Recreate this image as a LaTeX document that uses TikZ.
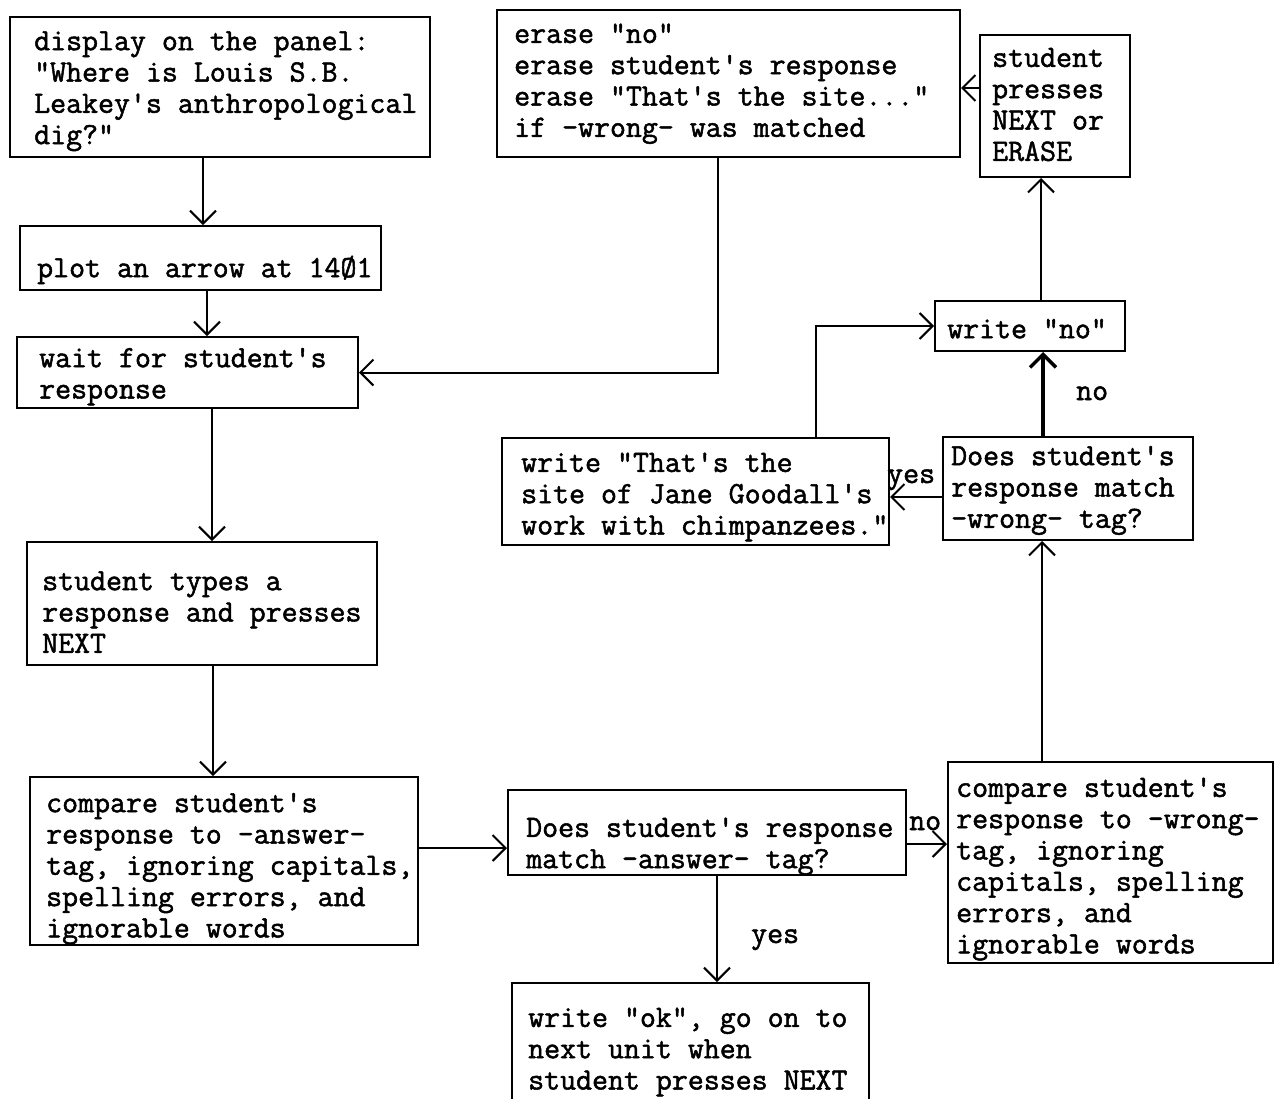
\documentclass[tikz,border=0pt]{standalone}
\usepackage{fontspec}
\setmonofont{Latin Modern Mono}[FakeBold=1.6]
\usetikzlibrary{arrows.meta,calc}
\tikzset{
  boxn/.style={draw, line width=2pt, rectangle, inner sep=0pt},
  txt/.style={anchor=north west, inner sep=0pt, align=left,
    font=\ttfamily\fontsize{31}{31.3}\selectfont},
  lbl/.style={anchor=base west, inner sep=0pt,
    font=\ttfamily\fontsize{31}{31.3}\selectfont},
  arr/.style={line width=2pt, -{Straight Barb[length=13pt,width=26pt]}},
  thickarr/.style={line width=3.5pt, -{Straight Barb[length=13pt,width=26pt]}}
}
\begin{document}
\begin{tikzpicture}[x=1pt,y=-1pt]
\useasboundingbox (0,0) rectangle (1274,1098);
\clip (0,0) rectangle (1274,1098);
\fill[white] (0,0) rectangle (1274,1098);

% boxes
\node[boxn,minimum width=420pt,minimum height=140pt] (disp) at (220,87) {};
\node[boxn,minimum width=361pt,minimum height=64pt] (plot) at (200.5,258) {};
\node[boxn,minimum width=341pt,minimum height=71pt] (wait) at (187.5,372.5) {};
\node[boxn,minimum width=350pt,minimum height=123pt] (types) at (202,603.5) {};
\node[boxn,minimum width=388pt,minimum height=168pt] (cmpa) at (224,861) {};
\node[boxn,minimum width=398pt,minimum height=85pt] (doesa) at (707,832.5) {};
\node[boxn,minimum width=357pt,minimum height=134pt] (ok) at (690.5,1050) {};
\node[boxn,minimum width=325pt,minimum height=201pt] (cmpw) at (1110.5,862.5) {};
\node[boxn,minimum width=250pt,minimum height=103pt] (doesw) at (1068,488.5) {};
\node[boxn,minimum width=387pt,minimum height=107pt] (site) at (695.5,491.5) {};
\node[boxn,minimum width=190pt,minimum height=50pt] (no) at (1030,326) {};
\node[boxn,minimum width=150pt,minimum height=142pt] (press) at (1055,106) {};
\node[boxn,minimum width=463pt,minimum height=147pt] (erase) at (728.5,83.5) {};

% texts
\node[txt] (dispT) at (34,28.1) {\strut display on the panel:\\"Where is Louis S.B.\\Leakey's anthropological\\dig?"};
\node[txt] (plotT) at (37,255.1) {\strut plot an arrow at 14Ø1};
\node[txt] (waitT) at (39,345.1) {\strut wait for student's\\response};
\node[txt] (typesT) at (42,568.1) {\strut student types a\\response and presses\\NEXT};
\node[txt] (cmpaT) at (46,790.1) {\strut compare student's\\response to -answer-\\tag, ignoring capitals,\\spelling errors, and\\ignorable words};
\node[txt] (doesaT) at (526,814.8) {\strut Does student's response\\match -answer- tag?};
\node[txt] (okT) at (528,1004.8) {\strut write "ok", go on to\\next unit when\\student presses NEXT};
\node[txt] (cmpwT) at (956,774.8) {\strut compare student's\\response to -wrong-\\tag, ignoring\\capitals, spelling\\errors, and\\ignorable words};
\node[txt] (doeswT) at (951,443.1) {\strut Does student's\\response match\\-wrong- tag?};
\node[txt] (siteT) at (521,449.8) {\strut write "That's the\\site of Jane Goodall's\\work with chimpanzees."};
\node[txt] (noT) at (947,316.1) {\strut write "no"};
\node[txt] (pressT) at (992,44.8) {\strut student\\presses\\NEXT or\\ERASE};
\node[txt] (eraseT) at (514,20.8) {\strut erase "no"\\erase student's response\\erase "That's the site..."\\if -wrong- was matched};

% connectors
\draw[arr] ([xshift=2.5pt]plot.north |- disp.south) -- ([xshift=2.5pt]plot.north);
\draw[arr] ([xshift=6.5pt]plot.south) -- ([xshift=6.5pt]plot.south |- wait.north);
\draw[arr] ([xshift=10pt]types.north |- wait.south) -- ([xshift=10pt]types.north);
\draw[arr] ([xshift=-11pt]cmpa.north |- types.south) -- ([xshift=-11pt]cmpa.north);
\draw[arr] ([yshift=13pt]cmpa.east) -- ([yshift=13pt]cmpa.east -| doesa.west);
\draw[arr] ([xshift=10pt]doesa.south) -- ([xshift=10pt]doesa.south |- ok.north);
\draw[arr] ([yshift=-11.5pt]doesa.east) -- ([yshift=-11.5pt]doesa.east -| cmpw.west);
\draw[arr] ([xshift=-26pt]doesw.south |- cmpw.north) -- ([xshift=-26pt]doesw.south);
\draw[thickarr] ([xshift=13pt]no.south |- doesw.north) -- ([xshift=13pt]no.south);
\draw[arr] ([yshift=-8.5pt]doesw.west) -- ([yshift=-8.5pt]doesw.west -| site.east);
\draw[arr] ([xshift=120.5pt]site.north) |- (no.west);
\draw[arr] ([xshift=11pt]no.north) -- ([xshift=11pt]no.north |- press.south);
\draw[arr] ([yshift=18pt]press.west) -- ([yshift=18pt]press.west -| erase.east);
\draw[arr] ([xshift=-10.5pt]erase.south) |- (wait.east);

% labels
\node[lbl] (yes1) at (751,943) {yes};
\node[lbl] (no1) at (909,830) {no};
\node[lbl] (no2) at (1076,400) {no};
\node[lbl] (yes2) at (887,483) {yes};
\end{tikzpicture}
\end{document}
